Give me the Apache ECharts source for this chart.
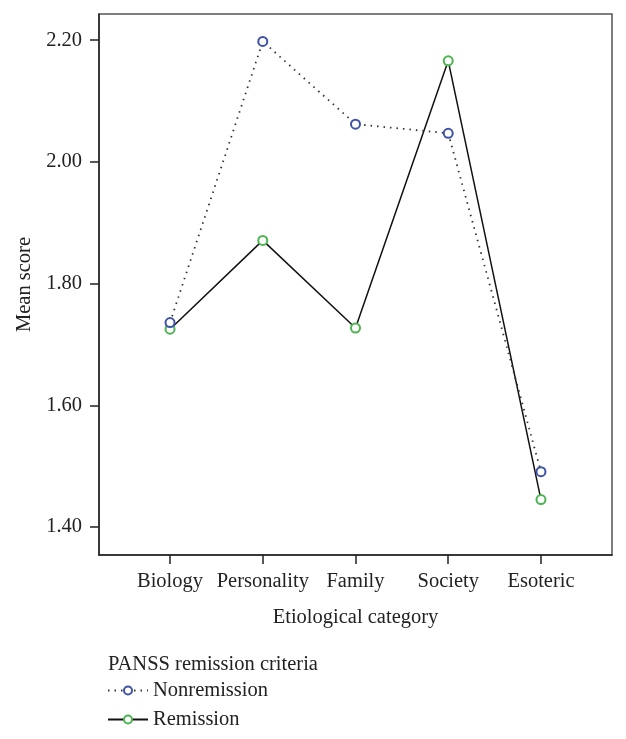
<!DOCTYPE html>
<html><head><meta charset="utf-8">
<script src="https://cdn.jsdelivr.net/npm/echarts@6/dist/echarts.min.js"></script>
<style>html,body{margin:0;padding:0;background:#fff}#c{width:626px;height:739px}</style>
</head><body><div id="c"></div>
<script>
const categories = ['Biology', 'Personality', 'Family', 'Society', 'Esoteric'];
const nonremission = [1.736, 2.198, 2.062, 2.047, 1.491];
const remission = [1.725, 1.871, 1.727, 2.166, 1.445];
const yTicks = [1.40, 1.60, 1.80, 2.00, 2.20];
const FONT = '"Liberation Serif", "DejaVu Serif", serif';
const FS = 20.5;
const chart = echarts.init(document.getElementById('c'), null, {renderer: 'canvas'});
const idx = categories.map((_, i) => i);
chart.setOption({
  animation: false,
  grid: {left: 99, top: 14, width: 513, height: 541, show: true, borderColor: '#555', borderWidth: 1.5, backgroundColor: 'transparent'},
  title: {text: 'PANSS remission criteria', left: 103, top: 649, textStyle: {fontFamily: FONT, fontSize: FS, fontWeight: 'normal', color: '#222'}},
  legend: {
    orient: 'vertical', left: 102, top: 675, itemGap: 8, itemWidth: 40, itemHeight: 10,
    textStyle: {fontFamily: FONT, fontSize: FS, color: '#222'},
    data: ['Nonremission', 'Remission']
  },
  xAxis: {
    type: 'value', min: -0.766, max: 4.766,
    name: 'Etiological category', nameLocation: 'middle', nameGap: 52,
    nameTextStyle: {fontFamily: FONT, fontSize: FS, color: '#222'},
    axisLine: {show: true, onZero: false, lineStyle: {color: '#222', width: 1.5}},
    axisTick: {show: true, length: 9, customValues: idx, lineStyle: {color: '#222', width: 1.5}},
    axisLabel: {customValues: idx, formatter: v => categories[Math.round(v)], fontFamily: FONT, fontSize: FS, color: '#222', margin: 16},
    splitLine: {show: false}
  },
  yAxis: {
    type: 'value', min: 1.354, max: 2.243,
    name: 'Mean score', nameLocation: 'middle', nameGap: 64, nameRotate: 90,
    nameTextStyle: {fontFamily: FONT, fontSize: FS, color: '#222'},
    axisLine: {show: true, onZero: false, lineStyle: {color: '#222', width: 1.5}},
    axisTick: {show: true, length: 9, customValues: yTicks, lineStyle: {color: '#222', width: 1.5}},
    axisLabel: {customValues: yTicks, formatter: v => v.toFixed(2), fontFamily: FONT, fontSize: FS, color: '#222', margin: 17},
    splitLine: {show: false}
  },
  series: [
    {
      name: 'Nonremission', type: 'line', data: idx.map(i => [i, nonremission[i]]),
      symbol: 'emptyCircle', symbolSize: 9,
      lineStyle: {color: '#333', width: 1.8, type: [1.5, 5]},
      itemStyle: {color: '#3e52a8', borderColor: '#3e52a8', borderWidth: 1.5},
      z: 3
    },
    {
      name: 'Remission', type: 'line', data: idx.map(i => [i, remission[i]]),
      symbol: 'emptyCircle', symbolSize: 9,
      lineStyle: {color: '#111', width: 1.5, type: 'solid'},
      itemStyle: {color: '#4cb450', borderColor: '#4cb450', borderWidth: 1.5},
      z: 2
    }
  ]
});
</script></body></html>
